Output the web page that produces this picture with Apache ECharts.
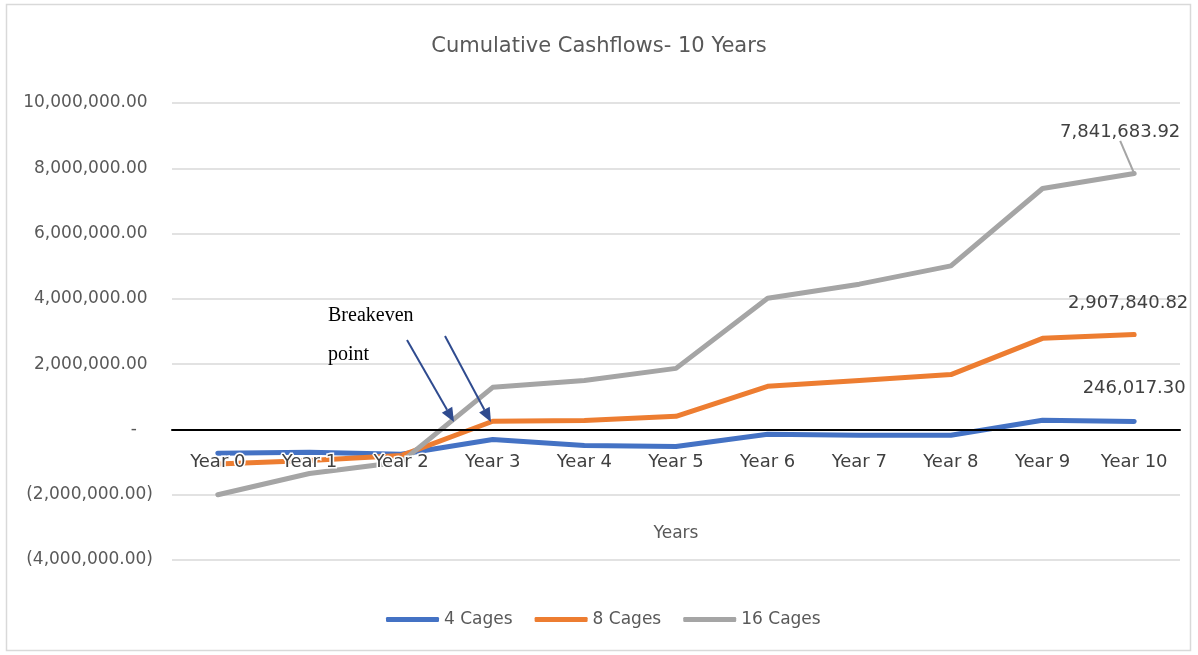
<!DOCTYPE html>
<html>
<head>
<meta charset="utf-8">
<script src="https://cdn.jsdelivr.net/npm/echarts@6/dist/echarts.min.js"></script>
<style>
html,body{margin:0;padding:0;background:#fff;}
#chart{width:1198px;height:655px;}
</style>
</head>
<body>
<div id="chart"></div>
<script>
const categories = ['Year 0','Year 1','Year 2','Year 3','Year 4','Year 5','Year 6','Year 7','Year 8','Year 9','Year 10'];
const cages4  = [-730000, -700000, -760000, -310000, -490000, -520000, -150000, -180000, -180000, 280000, 246017.30];
const cages8  = [-1060000, -950000, -800000, 250000, 270000, 400000, 1320000, 1500000, 1680000, 2790000, 2907840.82];
const cages16 = [-2000000, -1350000, -1000000, 1290000, 1500000, 1870000, 4020000, 4450000, 5010000, 7380000, 7841683.92];
const seriesNames = ['4 Cages','8 Cages','16 Cages'];
const yTicks = {min: -4000000, max: 10000000, interval: 2000000};

const FONT = 'DejaVu Sans';
const fmt = v => v.toLocaleString('en-US', {minimumFractionDigits: 2, maximumFractionDigits: 2});
const yFmt = v => v === 0 ? '-   ' : (v < 0 ? '(' + fmt(-v) + ')' : fmt(v) + ' ');

function lastLabel(values) {
  const last = values.length - 1;
  return values.map((v, i) => i === last ? {
    value: v,
    label: {show: true, position: 'top', formatter: p => fmt(p.value), color: '#404040', fontSize: 18, fontFamily: FONT, distance: 5}
  } : v);
}

function arrow(x1, y1, x2, y2, color) {
  const dx = x2 - x1, dy = y2 - y1, L = Math.hypot(dx, dy);
  const ux = dx / L, uy = dy / L, hl = 14, hw = 6;
  const bx = x2 - ux * hl, by = y2 - uy * hl;
  return [
    {type: 'line', shape: {x1: x1, y1: y1, x2: bx, y2: by}, style: {stroke: color, lineWidth: 2}, z: 100},
    {type: 'polygon', shape: {points: [[x2, y2], [bx - uy * hw, by + ux * hw], [bx + uy * hw, by - ux * hw]]}, style: {fill: color}, z: 100}
  ];
}

const colors = ['#4472C4', '#ED7D31', '#A5A5A5'];
const chart = echarts.init(document.getElementById('chart'), null, {renderer: 'canvas'});
const lineStyleBase = {width: 5, cap: 'round', join: 'round'};

const GRID_TOP = 103, GRID_BOTTOM = 95, H = 655;
const plotH = H - GRID_TOP - GRID_BOTTOM;
const zeroOffset = -plotH * (0 - yTicks.min) / (yTicks.max - yTicks.min);

function seriesOf(i, values, dx, dy, extra) {
  return Object.assign({
    name: seriesNames[i], type: 'line', data: lastLabel(values),
    symbol: 'circle', symbolSize: 1, showSymbol: true,
    lineStyle: lineStyleBase, labelLayout: {dx: dx, dy: dy}
  }, extra || {});
}

const option = {
  animation: false,
  color: colors,
  title: {
    text: 'Cumulative Cashflows- 10 Years',
    left: 'center', top: 31,
    textStyle: {fontFamily: FONT, fontSize: 21, fontWeight: 'normal', color: '#595959'}
  },
  legend: {
    bottom: 22, left: 381,
    icon: 'roundRect', itemWidth: 53, itemHeight: 5, itemGap: 22,
    textStyle: {fontFamily: FONT, fontSize: 17, color: '#595959'},
    data: seriesNames
  },
  grid: {left: 172, right: 18, top: GRID_TOP, bottom: GRID_BOTTOM, containLabel: false, outerBoundsMode: 'none'},
  xAxis: {
    type: 'category', data: categories, boundaryGap: true, z: 5,
    position: 'bottom', offset: zeroOffset,
    name: 'Years', nameLocation: 'middle', nameGap: 96,
    nameTextStyle: {fontFamily: FONT, fontSize: 17, color: '#595959'},
    axisLine: {onZero: false, lineStyle: {color: '#000', width: 2}},
    axisTick: {show: false},
    axisLabel: {margin: 24, fontFamily: FONT, fontSize: 18, color: '#404040', textBorderColor: '#fff', textBorderWidth: 3}
  },
  yAxis: {
    type: 'value', min: yTicks.min, max: yTicks.max, interval: yTicks.interval,
    axisLine: {show: false}, axisTick: {show: false},
    splitLine: {lineStyle: {color: '#d9d9d9', width: 1.5}},
    axisLabel: {margin: 19, fontFamily: FONT, fontSize: 17, color: '#595959', formatter: yFmt}
  },
  series: [
    seriesOf(0, cages4, 0, -19),
    seriesOf(1, cages8, -6, -17),
    seriesOf(2, cages16, -14, -27, {labelLine: {show: true, lineStyle: {color: '#A5A5A5', width: 2}}})
  ],
  graphic: [
    {type: 'rect', shape: {x: 6.5, y: 4.5, width: 1184, height: 646}, style: {fill: 'none', stroke: '#d9d9d9', lineWidth: 1.5}, z: -1, silent: true},
    {type: 'text', x: 328, y: 316, style: {text: 'Breakeven', font: '20px "Liberation Serif"', fill: '#000', verticalAlign: 'middle'}, z: 100},
    {type: 'text', x: 328, y: 355, style: {text: 'point', font: '20px "Liberation Serif"', fill: '#000', verticalAlign: 'middle'}, z: 100}
  ].concat(arrow(407, 340, 454, 422, '#2F4B8F'), arrow(445, 336, 491, 422, '#2F4B8F'))
};
chart.setOption(option);
</script>
</body>
</html>
